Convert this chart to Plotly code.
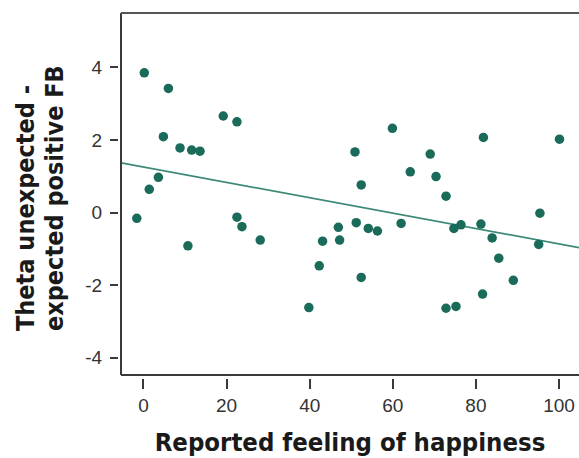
import plotly.graph_objects as go
import numpy as np

# Data
happiness = [0.2, 6.0, 19.2, 22.5, 4.8, 8.8, 11.6, 13.6, 3.6, 1.4,
             -1.6, 22.5, 23.7, 10.7, 28.1, 46.9, 47.2, 43.1, 42.3, 39.8,
             59.9, 81.8, 100.1, 50.9, 69.0, 64.2, 70.4, 52.4, 72.8, 95.4,
             51.2, 54.1, 56.3, 62.0, 74.7, 76.4, 81.2, 83.9, 95.1, 85.5,
             52.4, 89.0, 81.6, 72.8, 75.2]
theta = [3.85, 3.42, 2.66, 2.50, 2.09, 1.78, 1.72, 1.69, 0.97, 0.64,
         -0.16, -0.13, -0.39, -0.92, -0.76, -0.41, -0.76, -0.79, -1.47, -2.62,
         2.32, 2.07, 2.02, 1.67, 1.61, 1.12, 0.99, 0.76, 0.45, -0.02,
         -0.28, -0.44, -0.51, -0.30, -0.44, -0.34, -0.32, -0.70, -0.88, -1.26,
         -1.79, -1.87, -2.25, -2.64, -2.59]

fit_intercept = 1.255
fit_slope = -0.0212

x_ticks = [0, 20, 40, 60, 80, 100]
x_tick_labels = ["0", "20", "40", "60", "80", "100"]
y_ticks = [-4, -2, 0, 2, 4]
y_tick_labels = ["-4", "-2", "0", "2", "4"]
x_range = [-5.4, 104.8]
y_range = [-4.48, 5.5]

x_title = "Reported feeling of happiness"
y_title_lines = ["Theta unexpected -", "expected positive FB"]

W, H = 579, 458
ML, MR, MT, MB = 118, 0, 13, 80
plot_w = W - ML - MR
plot_h = H - MT - MB
gap = 3

teal = "#1a6b5a"
axis_col = "#3a3a3a"
title_family = "DejaVu Sans Condensed, DejaVu Sans, sans-serif"

fit_x = np.array(x_range)
fit_y = fit_intercept + fit_slope * fit_x

fig = go.Figure()
fig.add_trace(go.Scatter(x=list(fit_x), y=list(fit_y), mode="lines",
                         line=dict(color="#3d8a79", width=1.8),
                         hoverinfo="skip", showlegend=False))
fig.add_trace(go.Scatter(x=happiness, y=theta, mode="markers",
                         marker=dict(color=teal, size=9.5, line=dict(width=0)),
                         showlegend=False))

tick_font = dict(family="Liberation Sans, Arial, sans-serif", size=19, color="#333333")

# y-title: two start-aligned rotated lines (pixel positions -> paper coords)
y_title_px_x = [25, 54]
y_title_px_bottom = 333
annotations = []
for line, px in zip(y_title_lines, y_title_px_x):
    annotations.append(dict(
        text="<b>%s</b>" % line, textangle=-90, showarrow=False,
        xref="paper", yref="paper",
        x=(px - ML) / plot_w, y=((H - MB) - y_title_px_bottom) / plot_h,
        xanchor="center", yanchor="bottom",
        font=dict(family=title_family, size=25, color="#1a1a1a")))

fig.update_layout(
    width=W, height=H,
    margin=dict(l=ML, r=MR, t=MT, b=MB, pad=0),
    plot_bgcolor="white", paper_bgcolor="white",
    xaxis=dict(range=x_range, domain=[gap / plot_w, 1], anchor="free", position=0,
               tickvals=x_ticks, ticktext=x_tick_labels, ticks="outside", ticklen=10,
               tickwidth=2, tickcolor=axis_col, showline=False, showgrid=False,
               zeroline=False, tickfont=tick_font,
               title=dict(text="<b>%s</b>" % x_title,
                          font=dict(family=title_family, size=25.5, color="#1a1a1a"),
                          standoff=18)),
    yaxis=dict(range=y_range, domain=[gap / plot_h, 1], anchor="free", position=0,
               tickvals=y_ticks, ticktext=y_tick_labels, ticks="outside", ticklen=8,
               tickwidth=2, tickcolor=axis_col, showline=False, showgrid=False,
               zeroline=False, tickfont=tick_font, ticklabelstandoff=4),
    annotations=annotations,
    shapes=[
        dict(type="line", xref="x domain", yref="y domain", x0=0, x1=0, y0=0, y1=1,
             line=dict(color=axis_col, width=2)),
        dict(type="line", xref="x domain", yref="y domain", x0=0, x1=1, y0=0, y1=0,
             line=dict(color=axis_col, width=2)),
        dict(type="line", xref="x domain", yref="y domain", x0=0, x1=1, y0=1, y1=1,
             line=dict(color="#555555", width=2)),
    ],
)

fig.write_html("out.html")
